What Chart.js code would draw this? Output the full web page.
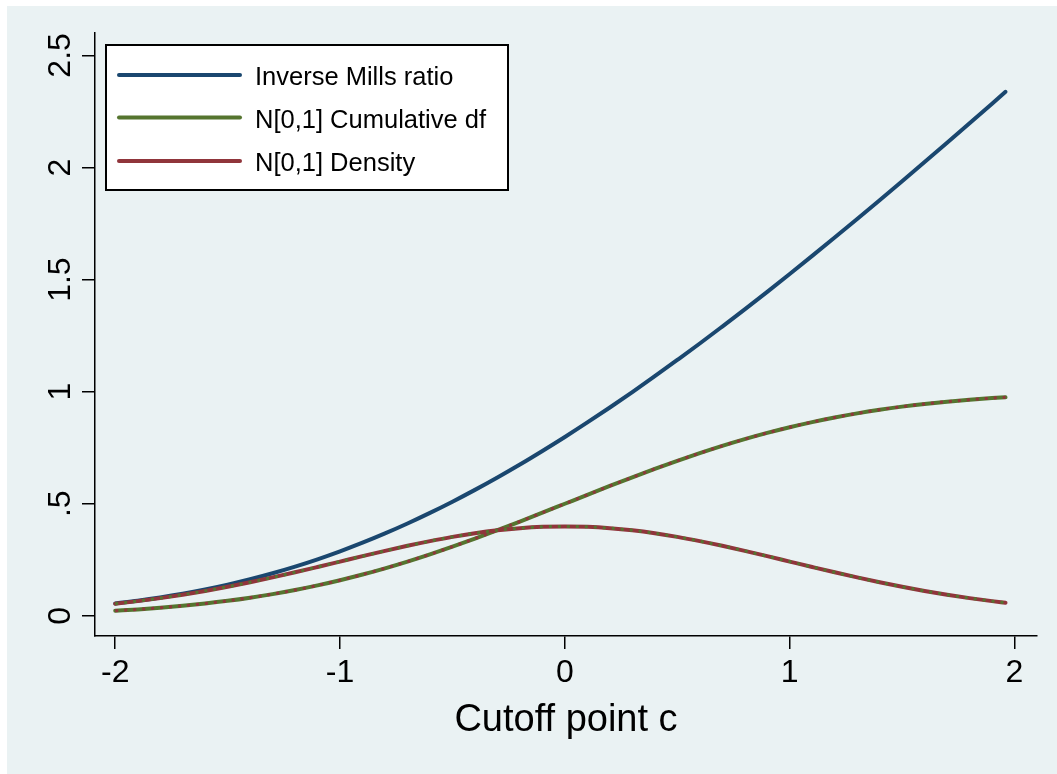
<!DOCTYPE html>
<html><head><meta charset="utf-8">
<script src="https://cdn.jsdelivr.net/npm/chart.js@4.4.0/dist/chart.umd.min.js"></script>
<style>
html,body{margin:0;padding:0;background:#fff;overflow:hidden;}
#bg{position:absolute;left:7px;top:6px;width:1050px;height:768px;background:#eaf2f3;}
#wrap{position:absolute;left:0;top:0;width:1057px;height:774px;}
</style></head><body>
<div id="bg"></div>
<div id="wrap"><canvas id="c" width="1057" height="774"></canvas></div>
<script>
const cutoff = [-2.0,-1.9,-1.8,-1.7,-1.6,-1.5,-1.4,-1.3,-1.2,-1.1,-1.0,-0.9,-0.8,-0.7,-0.6,-0.5,-0.4,-0.3,-0.2,-0.1,0.0,0.1,0.2,0.3,0.4,0.5,0.6,0.7,0.8,0.9,1.0,1.1,1.2,1.3,1.4,1.5,1.6,1.7,1.8,1.9,1.96];
const millsRatio = [0.0553,0.0676,0.0819,0.0984,0.1173,0.1388,0.1629,0.1898,0.2195,0.2521,0.2876,0.3261,0.3676,0.4120,0.4592,0.5092,0.5619,0.6172,0.6750,0.7355,0.7979,0.8627,0.9294,0.9982,1.0688,1.1413,1.2148,1.2905,1.3672,1.4454,1.5251,1.6057,1.6876,1.7704,1.8540,1.9386,2.0241,2.1103,2.1973,2.2848,2.3378];
const normalCdf = [0.0228,0.0287,0.0359,0.0446,0.0548,0.0668,0.0808,0.0968,0.1151,0.1357,0.1587,0.1841,0.2119,0.2420,0.2743,0.3085,0.3446,0.3821,0.4207,0.4602,0.5000,0.5398,0.5793,0.6179,0.6554,0.6915,0.7257,0.7580,0.7881,0.8159,0.8413,0.8643,0.8849,0.9032,0.9192,0.9332,0.9452,0.9554,0.9641,0.9713,0.9750];
const normalDensity = [0.0540,0.0656,0.0790,0.0940,0.1109,0.1295,0.1497,0.1714,0.1942,0.2179,0.2420,0.2661,0.2897,0.3123,0.3332,0.3521,0.3683,0.3814,0.3910,0.3970,0.3989,0.3970,0.3910,0.3814,0.3683,0.3521,0.3332,0.3123,0.2897,0.2661,0.2420,0.2179,0.1942,0.1714,0.1497,0.1295,0.1109,0.0940,0.0790,0.0656,0.0584];
const seriesNames = ['Inverse Mills ratio','N[0,1] Cumulative df','N[0,1] Density'];
const xTickValues = [-2,-1,0,1,2];
const yTickValues = [0,0.5,1,1.5,2,2.5];
const yTickLabels = ['0','.5','1','1.5','2','2.5'];
const xTitle = 'Cutoff point c';

const NAVY='#1a476f', GREEN='#55752f', MAROON='#90353b';
const FONT='"Liberation Sans", Arial, sans-serif';
const pts = arr => cutoff.map((x,i)=>({x:x,y:arr[i]}));

const mainLine = (label,arr,color,order)=>({label:label,data:pts(arr),borderColor:color,borderWidth:4,borderCapStyle:'round',borderJoinStyle:'round',pointRadius:0,cubicInterpolationMode:'monotone',fill:false,order:order});
const dotLine = (arr,color,order)=>({label:'',data:pts(arr),borderColor:color,borderWidth:3,borderDash:[3,6],pointRadius:0,cubicInterpolationMode:'monotone',fill:false,order:order});

const legendPlugin = {
  id:'stataLegend',
  afterDraw(chart){
    const ctx=chart.ctx;
    ctx.save();
    const bx=106, by=45, bw=402, bh=145;
    ctx.fillStyle='#ffffff';
    ctx.fillRect(bx,by,bw,bh);
    ctx.strokeStyle='#000';
    ctx.lineWidth=2;
    ctx.strokeRect(bx,by,bw,bh);
    const rows=[75,117.5,161];
    ctx.font='25.5px '+FONT;
    ctx.textAlign='left';
    ctx.textBaseline='alphabetic';
    for(let i=0;i<3;i++){
      const ds=chart.data.datasets[i];
      ctx.strokeStyle=ds.borderColor;
      ctx.lineWidth=4;
      ctx.lineCap='round';
      ctx.beginPath();
      ctx.moveTo(119,rows[i]);
      ctx.lineTo(240,rows[i]);
      ctx.stroke();
      ctx.fillStyle='#000';
      ctx.fillText(ds.label,255,rows[i]+10);
    }
    const ys=chart.scales.y;
    ctx.font='32px '+FONT;
    ctx.textAlign='center';
    ctx.textBaseline='alphabetic';
    ctx.fillStyle='#000';
    yTickValues.forEach((v,i)=>{
      const py=ys.getPixelForValue(v);
      ctx.save();
      ctx.translate(70,py);
      ctx.rotate(-Math.PI/2);
      ctx.fillText(yTickLabels[i],0,0);
      ctx.restore();
    });
    ctx.restore();
  }
};

new Chart(document.getElementById('c'),{
  type:'line',
  data:{datasets:[
    mainLine(seriesNames[0],millsRatio,NAVY,5),
    mainLine(seriesNames[1],normalCdf,GREEN,4),
    mainLine(seriesNames[2],normalDensity,MAROON,2),
    dotLine(normalCdf,MAROON,3),
    dotLine(normalDensity,GREEN,1)
  ]},
  options:{
    responsive:false,
    animation:false,
    devicePixelRatio:1,
    layout:{padding:{left:0,top:33,right:20,bottom:0}},
    plugins:{legend:{display:false},tooltip:{enabled:false}},
    scales:{
      x:{
        type:'linear',min:-2.09,max:2.1,
        afterBuildTicks(s){s.ticks=xTickValues.map(v=>({value:v}));},
        afterFit(s){s.height=138;},
        grid:{drawOnChartArea:false,drawTicks:true,tickLength:13,color:'#000',lineWidth:1.5},
        border:{display:true,color:'#000',width:1.5},
        ticks:{font:{family:FONT,size:32},color:'#000',padding:5,maxRotation:0,autoSkip:false,callback:v=>String(v)},
        title:{display:true,text:xTitle,font:{family:FONT,size:38},color:'#000',padding:{top:0,bottom:31}}
      },
      y:{
        type:'linear',min:-0.09,max:2.6,
        afterBuildTicks(s){s.ticks=yTickValues.map(v=>({value:v}));},
        afterFit(s){s.width=95;},
        grid:{drawOnChartArea:false,drawTicks:true,tickLength:13,color:'#000',lineWidth:1.5},
        border:{display:true,color:'#000',width:1.5},
        ticks:{display:false}
      }
    }
  },
  plugins:[legendPlugin]
});
</script>
</body></html>
